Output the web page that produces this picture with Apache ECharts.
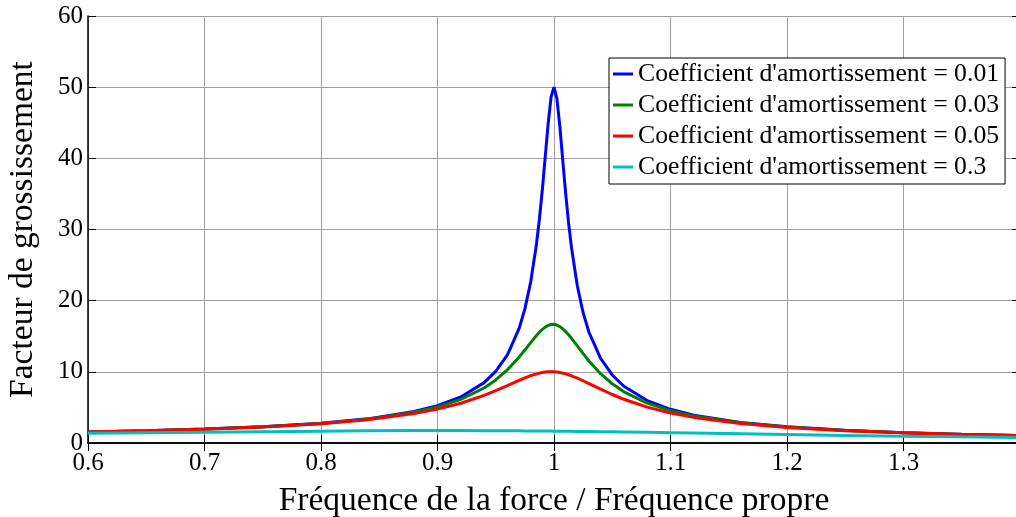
<!DOCTYPE html>
<html>
<head>
<meta charset="utf-8">
<script src="https://cdn.jsdelivr.net/npm/echarts@6/dist/echarts.min.js"></script>
<style>
html,body{margin:0;padding:0;background:#fff;}
#chart{width:1016px;height:517px;}
</style>
</head>
<body>
<div id="chart"></div>
<script>
// Frequency ratio (force frequency / natural frequency)
const xs = [0.60,0.65,0.70,0.75,0.80,0.84,0.88,0.90,0.92,0.94,0.95,0.96,0.97,0.975,0.98,0.985,0.9875,0.99,0.9925,0.995,0.9975,1.00,1.0025,1.005,1.0075,1.01,1.0125,1.015,1.02,1.025,1.03,1.04,1.05,1.06,1.08,1.10,1.12,1.16,1.20,1.25,1.30,1.35,1.40];
// Magnification factor, damping 0.01
const z001 = [1.562,1.731,1.960,2.284,2.775,3.391,4.419,5.240,6.464,8.481,10.07,12.39,16.08,18.84,22.63,28.01,31.51,35.62,40.26,44.92,48.62,50.00,48.39,44.52,39.75,35.09,30.96,27.46,22.10,18.31,15.56,11.88,9.558,7.974,5.960,4.736,3.916,2.887,2.269,1.776,1.448,1.215,1.041];
// damping 0.03
const z003 = [1.560,1.728,1.954,2.274,2.753,3.348,4.316,5.063,6.127,7.731,8.854,10.28,12.06,13.06,14.11,15.11,15.56,15.96,16.29,16.52,16.65,16.67,16.57,16.36,16.05,15.66,15.21,14.71,13.64,12.55,11.53,9.734,8.312,7.194,5.600,4.543,3.801,2.837,2.243,1.762,1.440,1.210,1.038];
// damping 0.05
const z005 = [1.556,1.721,1.943,2.253,2.712,3.266,4.130,4.757,5.585,6.684,7.346,8.068,8.804,9.150,9.461,9.718,9.821,9.903,9.964,10.00,10.01,10.00,9.963,9.902,9.817,9.711,9.585,9.442,9.115,8.747,8.357,7.565,6.815,6.141,5.041,4.218,3.598,2.743,2.193,1.735,1.424,1.200,1.031];
// damping 0.3
const z03 = [1.362,1.435,1.514,1.593,1.667,1.713,1.742,1.747,1.745,1.736,1.729,1.720,1.709,1.703,1.697,1.690,1.686,1.683,1.679,1.675,1.671,1.667,1.662,1.658,1.654,1.649,1.645,1.640,1.630,1.621,1.610,1.589,1.567,1.544,1.495,1.444,1.392,1.287,1.185,1.067,0.960,0.866,0.784];

const seriesNames = ["Coefficient d'amortissement = 0.01","Coefficient d'amortissement = 0.03","Coefficient d'amortissement = 0.05","Coefficient d'amortissement = 0.3"];
const seriesValues = [z001, z003, z005, z03];
const colors = ['#0000ff', '#008000', '#ff0000', '#00bfbf'];

const FONT = '"Liberation Serif", "Times New Roman", serif';

const chart = echarts.init(document.getElementById('chart'), null, {renderer: 'canvas'});

const boxAxis = {
  axisLine: {show: true, lineStyle: {color: '#000', width: 1.5}},
  axisTick: {show: true, inside: true, length: 8, lineStyle: {color: '#000', width: 1}},
  axisLabel: {show: false},
  splitLine: {show: false}
};

chart.setOption({
  animation: false,
  backgroundColor: '#fff',
  color: colors,
  grid: {left: 88, top: 16, width: 932, bottom: 74, containLabel: false, outerBoundsMode: 'none'},
  legend: {
    orient: 'vertical',
    left: 609, top: 58,
    backgroundColor: '#fff',
    borderColor: '#000', borderWidth: 1, borderRadius: 0,
    padding: [3, 6, 4, 4],
    itemWidth: 20, itemHeight: 3, itemGap: 5,
    icon: 'rect',
    textStyle: {fontFamily: FONT, fontSize: 25.7, color: '#000', lineHeight: 26},
    data: seriesNames
  },
  xAxis: [{
    type: 'value', min: 0.6, max: 1.4, interval: 0.1,
    name: 'Fréquence de la force / Fréquence propre',
    nameLocation: 'middle', nameGap: 41,
    nameTextStyle: {fontFamily: FONT, fontSize: 33.5, color: '#000'},
    axisLine: {show: true, onZero: false, lineStyle: {color: '#000', width: 1.5}},
    axisTick: {show: true, inside: true, length: 8, lineStyle: {color: '#000'}},
    axisLabel: {fontFamily: FONT, fontSize: 25, color: '#000', margin: 8, showMaxLabel: false,
      formatter: function (v) { return v >= 1.399 ? '' : String(Math.round(v * 10) / 10); }},
    splitLine: {show: true, lineStyle: {color: '#a0a0a0', width: 1}}
  }, Object.assign({type: 'value', min: 0.6, max: 1.4, interval: 0.1, position: 'top'}, boxAxis)],
  yAxis: [{
    type: 'value', min: 0, max: 60, interval: 10,
    name: 'Facteur de grossissement',
    nameLocation: 'middle', nameGap: 48,
    nameTextStyle: {fontFamily: FONT, fontSize: 33.5, color: '#000'},
    axisLine: {show: true, lineStyle: {color: '#000', width: 1.5}},
    axisTick: {show: true, inside: true, length: 8, lineStyle: {color: '#000'}},
    axisLabel: {fontFamily: FONT, fontSize: 25, color: '#000', margin: 5},
    splitLine: {show: true, lineStyle: {color: '#a0a0a0', width: 1}}
  }, Object.assign({type: 'value', min: 0, max: 60, interval: 10, position: 'right'}, boxAxis)],
  series: seriesNames.map(function (name, i) {
    return {
      name: name,
      type: 'line',
      xAxisIndex: 0, yAxisIndex: 0,
      showSymbol: false,
      symbol: 'none',
      lineStyle: {color: colors[i], width: 3},
      itemStyle: {color: colors[i]},
      data: xs.map(function (x, j) { return [x, seriesValues[i][j]]; })
    };
  })
});
</script>
</body>
</html>
